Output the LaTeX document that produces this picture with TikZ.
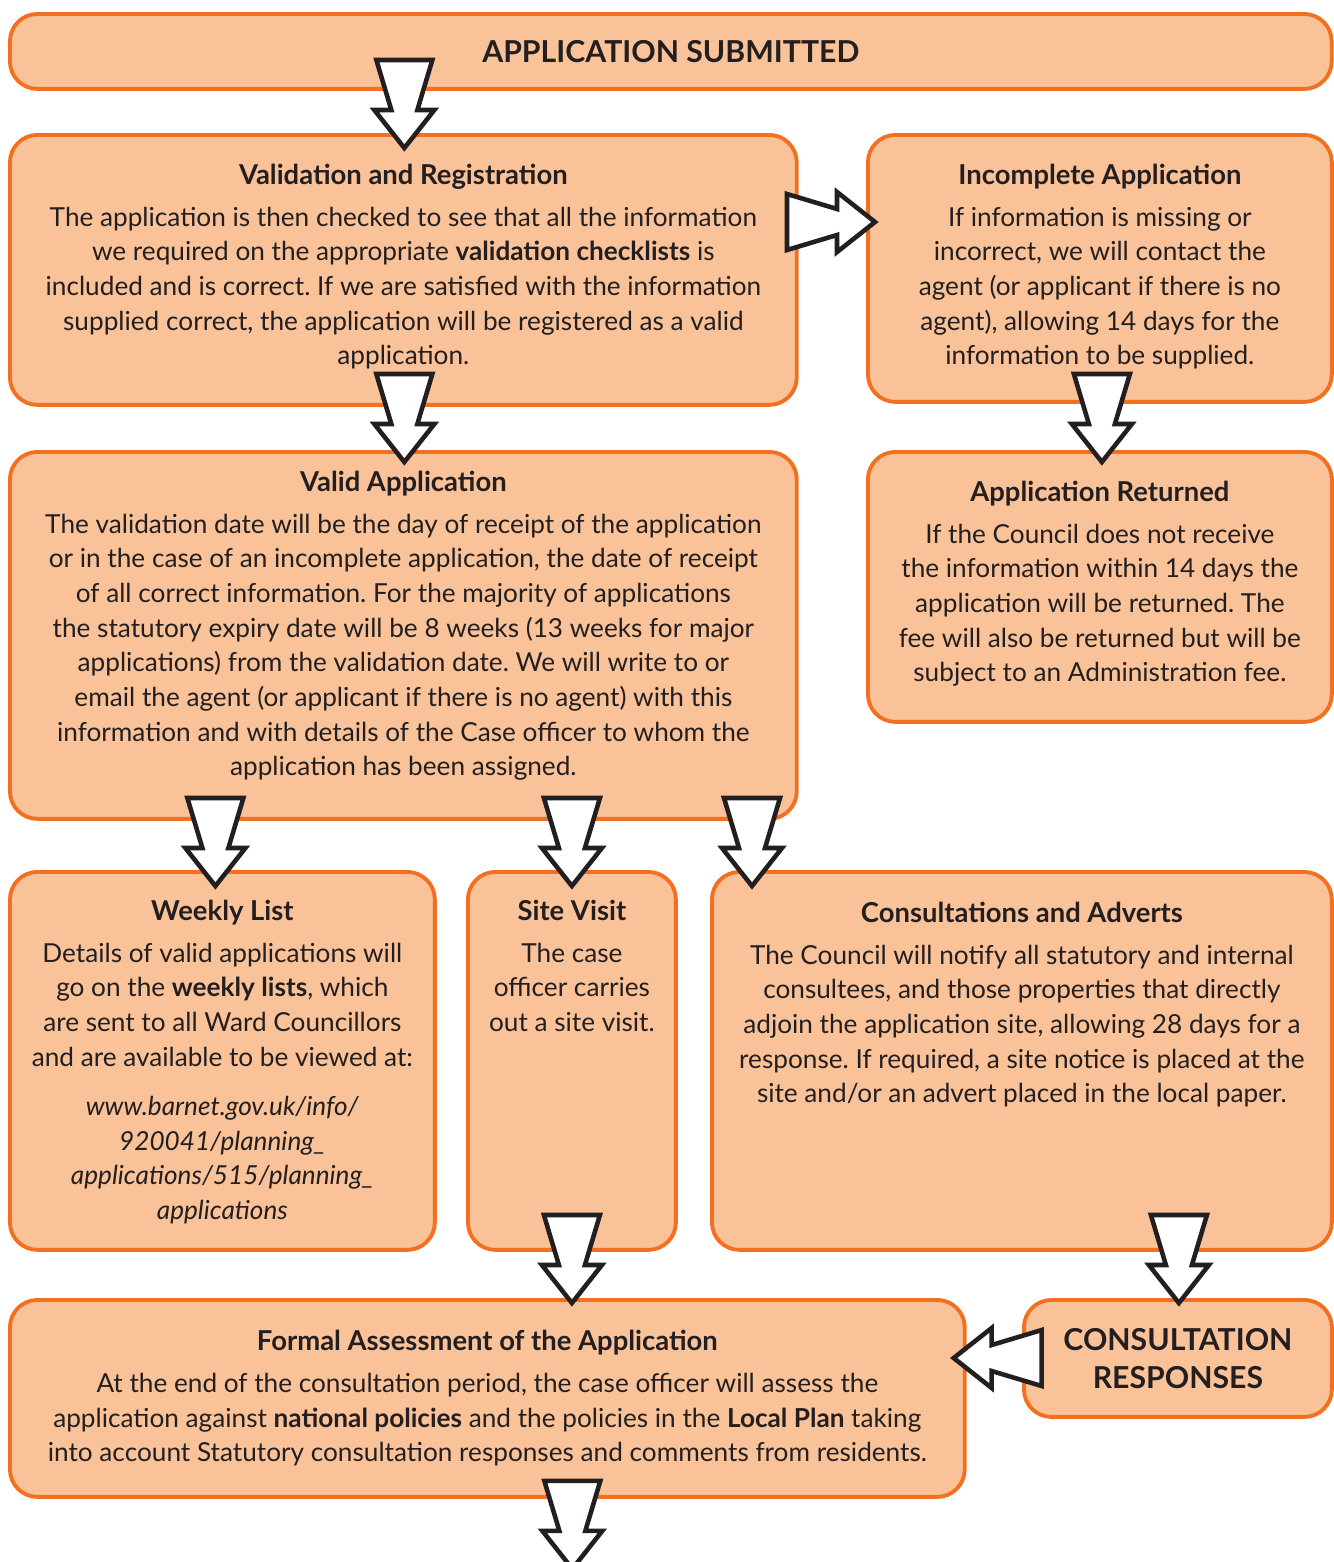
\documentclass[tikz,border=0pt]{standalone}
\usepackage{fontspec}
\setmainfont{Lato}
\frenchspacing
\usetikzlibrary{calc}
\definecolor{boxfill}{HTML}{F9C298}
\definecolor{boxline}{HTML}{F37021}
\definecolor{ink}{HTML}{231F20}
\newcommand{\boxhead}[1]{{\fontsize{15.6}{19.7}\selectfont\bfseries #1}}
\begin{document}
\begin{tikzpicture} [
        x=0.02cm, y=-0.02cm,
        box/.style={draw=boxline, fill=boxfill, line width=2.2pt, rounded corners=0.55cm,
            rectangle, anchor=north west, inner sep=0pt, text=ink},
        txt/.style={align=center, inner sep=0pt, anchor=north, text=ink,
            font=\fontsize{14.9}{19.7}\selectfont},
        big/.style={align=center, font=\fontsize{17.2}{22}\selectfont\bfseries},
        arrowline/.style={draw=ink, fill=white, line width=2.6pt, line join=miter},
        downarrow/.pic={\draw[arrowline] (-28,-88) -- (28,-88) -- (13,-38) -- (30,-38)
            -- (0,0) -- (-30,-38) -- (-13,-38) -- cycle;} ]
    \useasboundingbox (0,0) rectangle (1333,1562);

    % boxes
    \node[box, big, minimum width=26.44cm, minimum height=1.5cm] (submitted) at (8,12)
        {APPLICATION SUBMITTED};
    \node[box, minimum width=15.74cm, minimum height=5.4cm] (valreg) at (8,133) {};
    \node[box, minimum width=9.28cm, minimum height=5.34cm] (incomplete) at (866,133) {};
    \node[box, minimum width=15.74cm, minimum height=7.34cm] (valid) at (8,450) {};
    \node[box, minimum width=9.28cm, minimum height=5.4cm] (returned) at (866,450) {};
    \node[box, minimum width=8.5cm, minimum height=7.56cm] (weekly) at (8,870) {};
    \node[box, minimum width=4.16cm, minimum height=7.56cm] (site) at (466,870) {};
    \node[box, minimum width=12.4cm, minimum height=7.56cm] (consult) at (710,870) {};
    \node[box, minimum width=19.1cm, minimum height=3.94cm] (formal) at (8,1298) {};
    \node[box, big, minimum width=6.16cm, minimum height=2.34cm] (responses) at (1022,1298)
        {CONSULTATION\\RESPONSES};

    % texts
    \node[txt] (valreg-t) at ($(valreg.north)+(0,31)$) {\boxhead{Validation and Registration}\\[4pt]
        The application is then checked to see that all the information\\
        we required on the appropriate \textbf{validation checklists} is\\
        included and is correct. If we are satisfied with the information\\
        supplied correct, the application will be registered as a valid\\
        application.};
    \node[txt] (incomplete-t) at ($(incomplete.north)+(0,31)$) {\boxhead{Incomplete Application}\\[4pt]
        If information is missing or\\
        incorrect, we will contact the\\
        agent (or applicant if there is no\\
        agent), allowing 14 days for the\\
        information to be supplied.};
    \node[txt] (valid-t) at ($(valid.north)+(0,21)$) {\boxhead{Valid Application}\\[4pt]
        The validation date will be the day of receipt of the application\\
        or in the case of an incomplete application, the date of receipt\\
        of all correct information. For the majority of applications\\
        the statutory expiry date will be 8 weeks (13 weeks for major\\
        applications) from the validation date. We will write to or\\
        email the agent (or applicant if there is no agent) with this\\
        information and with details of the Case officer to whom the\\
        application has been assigned.};
    \node[txt] (returned-t) at ($(returned.north)+(0,31)$) {\boxhead{Application Returned}\\[4pt]
        If the Council does not receive\\
        the information within 14 days the\\
        application will be returned. The\\
        fee will also be returned but will be\\
        subject to an Administration fee.};
    \node[txt] (weekly-t) at ($(weekly.north)+(0,30)$) {\boxhead{Weekly List}\\[4pt]
        Details of valid applications will\\
        go on the \textbf{weekly lists}, which\\
        are sent to all Ward Councillors\\
        and are available to be viewed at:\\[8.5pt]
        \textit{www.barnet.gov.uk/info/}\\
        \textit{920041/planning\_}\\
        \textit{applications/515/planning\_}\\
        \textit{applications}};
    \node[txt] (site-t) at ($(site.north)+(0,30)$) {\boxhead{Site Visit}\\[4pt]
        The case\\
        officer carries\\
        out a site visit.};
    \node[txt] (consult-t) at ($(consult.north)+(0,32)$) {\boxhead{Consultations and Adverts}\\[4pt]
        The Council will notify all statutory and internal\\
        consultees, and those properties that directly\\
        adjoin the application site, allowing 28 days for a\\
        response. If required, a site notice is placed at the\\
        site and/or an advert placed in the local paper.};
    \node[txt] (formal-t) at ($(formal.north)+(0,32)$) {\boxhead{Formal Assessment of the Application}\\[4pt]
        At the end of the consultation period, the case officer will assess the\\
        application against \textbf{national policies} and the policies in the \textbf{Local Plan} taking\\
        into account Statutory consultation responses and comments from residents.};

    % block arrows
    \pic at ($(valreg.north)+(1,15)$) {downarrow};
    \pic at ($(valid.north)+(1,12)$) {downarrow};
    \pic at ($(returned.north)+(2,12)$) {downarrow};
    \pic[rotate=90] at ($(incomplete.north west)+(9,89)$) {downarrow};
    \pic at ($(weekly.north)+(-7,16)$) {downarrow};
    \pic at ($(site.north)+(0,16)$) {downarrow};
    \pic at ($(consult.north west)+(42,16)$) {downarrow};
    \pic at ($(site.south |- formal.north)+(0,5)$) {downarrow};
    \pic at ($(responses.north)+(1,5)$) {downarrow};
    \pic[rotate=-90] at ($(formal.north east)+(-13,60)$) {downarrow};
    \pic at ($(formal.south)+(85,70)$) {downarrow};
\end{tikzpicture}
\end{document}
